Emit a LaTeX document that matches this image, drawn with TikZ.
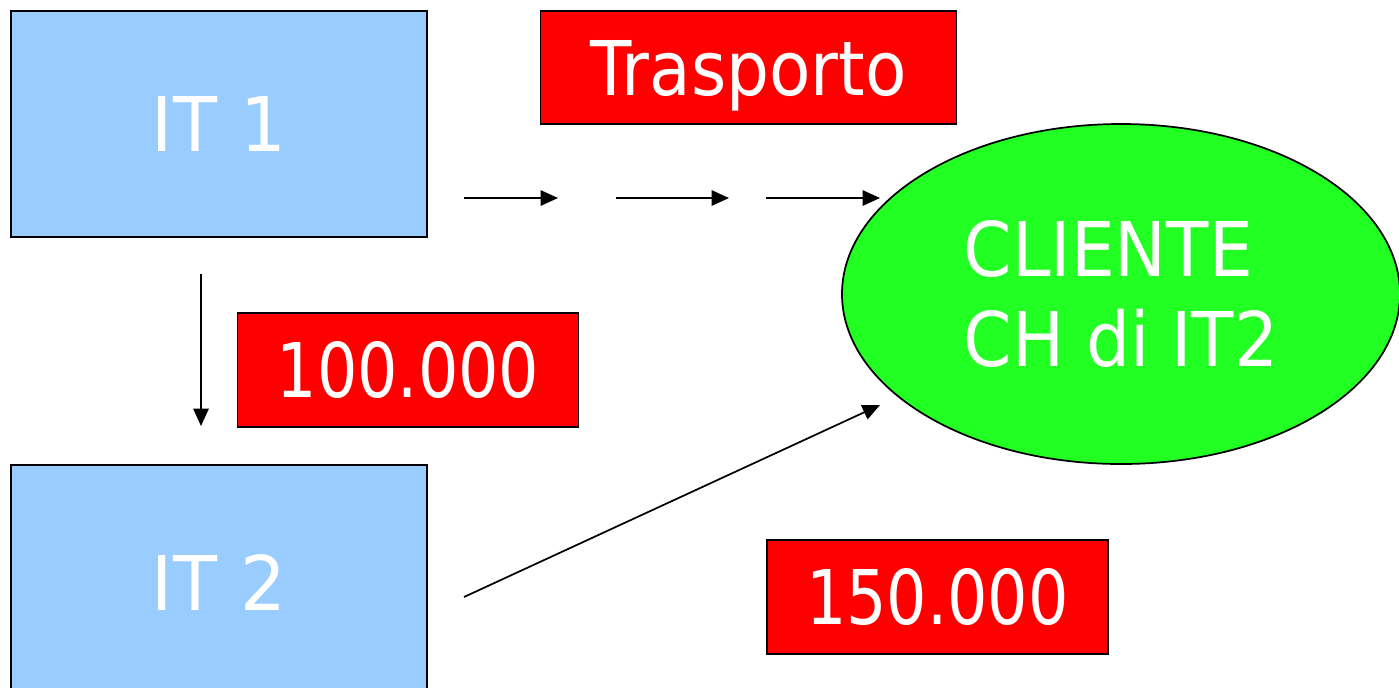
\documentclass[tikz,border=0pt]{standalone}
\usepackage{fontspec}
\setmainfont[FakeStretch=0.88]{DejaVu Sans}
\newfontfamily\itfont[FakeStretch=0.955]{DejaVu Sans}
\newfontfamily\clfont[FakeStretch=0.918]{DejaVu Sans}
\newfontfamily\trfont[FakeStretch=0.897]{DejaVu Sans}
\newfontfamily\numfont[FakeStretch=0.842]{DejaVu Sans}
\usetikzlibrary{arrows.meta,shapes.geometric}
\definecolor{itblue}{HTML}{99CCFF}
\definecolor{boxred}{HTML}{FF0000}
\definecolor{clientgreen}{HTML}{22FF22}
\newcommand\bigtxt{\fontsize{56.6pt}{67.5pt}\selectfont}
\begin{document}
\begin{tikzpicture}[x=0.75pt,y=-0.75pt,
  shapebase/.style={draw=black,line width=1.3pt,inner sep=0pt,outer sep=0pt,
    text=white,text height=41.3pt,text depth=0pt},
  itbox/.style={shapebase,fill=itblue,minimum width=312pt,font=\itfont\bigtxt},
  redbox/.style={shapebase,fill=boxred,minimum height=85pt,font=\numfont\bigtxt},
  client/.style={ellipse,draw=black,line width=1.3pt,fill=clientgreen,inner sep=0pt,
    minimum width=418.5pt,minimum height=255pt,text=white,font=\clfont\bigtxt,align=left},
  conn/.style={line width=1.3pt,-{Triangle[length=13pt,width=11.5pt]}}]
\useasboundingbox (0,0) rectangle (1399,687);
\clip (0,0) rectangle (1399,687);
% shapes
\node[itbox,minimum height=169.5pt] (it1) at (219,124) {IT 1};
\node[itbox,minimum height=177pt] (it2) at (219,583) {IT 2};
\node[redbox,minimum width=312pt,font=\trfont\bigtxt] (trasp) at (748.5,67.5) {Trasporto};
\node[redbox,minimum width=255.75pt] (cento) at (408,370) {100.000};
\node[redbox,minimum width=255.75pt] (centocinq) at (937.5,597) {150.000};
\node[client] (cliente) at (1121,294) {CLIENTE\\CH di IT2};
% connector end points
\coordinate (h1a) at (464,198);
\coordinate (h1b) at (558,198);
\coordinate (h2a) at (616,198);
\coordinate (h2b) at (729,198);
\coordinate (h3a) at (766,198);
\coordinate (h3b) at (880,198);
\coordinate (va) at (201,274);
\coordinate (vb) at (201,426);
\coordinate (da) at (464,597);
\coordinate (db) at (880,405);
% connectors
\draw[conn] (h1a) -- (h1b);
\draw[conn] (h2a) -- (h2b);
\draw[conn] (h3a) -- (h3b);
\draw[conn] (va) -- (vb);
\draw[conn] (da) -- (db);
\end{tikzpicture}
\end{document}
